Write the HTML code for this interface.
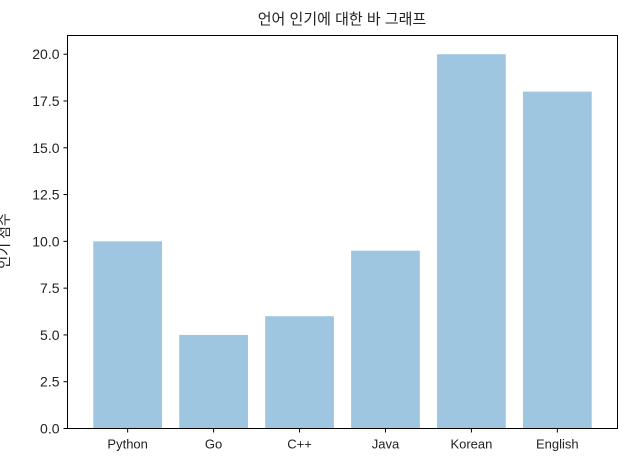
<!DOCTYPE html>
<html><head><meta charset="utf-8"><style>
body{margin:0;background:#fff;}
text{font-family:"Liberation Sans","Noto Sans CJK KR",sans-serif;fill:#222;}
</style></head><body>
<svg id="chart" width="618" height="468" xmlns="http://www.w3.org/2000/svg">
<text x="342" y="24" text-anchor="middle" font-size="15">언어 인기에 대한 바 그래프</text>
<text transform="translate(9,241) rotate(-90)" text-anchor="middle" font-size="14">인기 점수</text>
<g id="bars"></g><g id="ticks"></g>
<rect x="67.5" y="35.5" width="550" height="393" fill="none" stroke="#000" stroke-width="1"/>
</svg>
<script>
const categories=["Python","Go","C++","Java","Korean","English"];
const values=[10,5,6,9.5,20,18];
const yTicks=[0,2.5,5,7.5,10,12.5,15,17.5,20];
const L=67.5,R=617.5,T=35.5,B=428.5,xmin=-0.7,xmax=5.7,ymax=21;
const x=v=>L+(v-xmin)/(xmax-xmin)*(R-L);
const y=v=>B-v/ymax*(B-T);
const ns="http://www.w3.org/2000/svg";
const bars=document.getElementById('bars'),ticks=document.getElementById('ticks');
function mk(t,a,p){const e=document.createElementNS(ns,t);for(const k in a)e.setAttribute(k,a[k]);p.appendChild(e);return e;}
const bw=(x(0.8)-x(0));
categories.forEach((c,i)=>{
 const r=mk('rect',{x:x(i)-bw/2,y:y(values[i]),width:bw,height:y(0)-y(values[i]),fill:'#9fc6e0'},bars);
 
 
 mk('line',{x1:x(i),x2:x(i),y1:B,y2:B+4,stroke:'#000'},ticks);
 const t=mk('text',{x:x(i),y:B+20,'text-anchor':'middle','font-size':'13'},ticks);t.textContent=c;
 
 
});
yTicks.forEach(v=>{
 mk('line',{x1:L-4,x2:L,y1:y(v),y2:y(v),stroke:'#000'},ticks);
 const t=mk('text',{x:L-8,y:y(v)+5,'text-anchor':'end','font-size':'14'},ticks);t.textContent=v.toFixed(1);
 
 
});
</script>
</body></html>
